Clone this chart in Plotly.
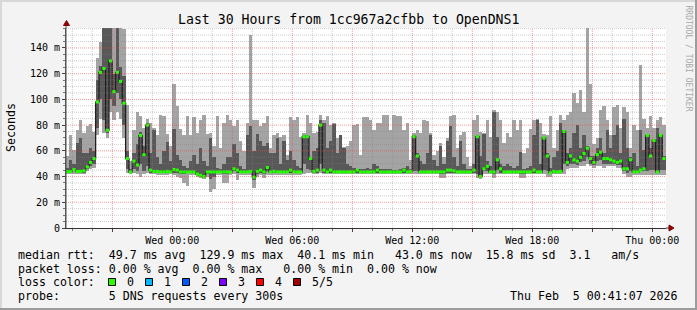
import numpy as np
import pandas as pd
import plotly.graph_objects as go

# ---------------- data: 10-minute steps from Tue 2026-02-03 18:40 (values in ms) -------------
step_start = "2026-02-03 18:40"
step_minutes = 10

p1_ms = [42, 42, 42, 42, 42, 42, 44, 46, 47, 72, 85, 74, 70, 90, 84, 90, 85, 70, 43, 42, 43, 42, 40, 42, 43, 42, 42, 41, 41, 41, 41, 42, 41, 40, 39, 35,
         33, 41, 41, 40, 39, 38, 40, 28, 30, 41, 41, 35, 35, 41, 42, 37, 41, 41, 41, 41, 31, 40, 41, 39, 41, 41, 41, 41, 41, 41, 41, 41, 41, 41, 41, 42,
         43, 43, 42, 42, 43, 42, 42, 42, 42, 42, 42, 42, 42, 42, 42, 42, 42, 42, 42, 42, 42, 42, 42, 42, 42, 42, 42, 42, 42, 42, 42, 42, 42, 42, 42, 42,
         42, 42, 42, 42, 39, 39, 42, 42, 42, 42, 42, 42, 42, 42, 42, 39, 38, 42, 42, 42, 39, 42, 42, 42, 42, 42, 42, 42, 39, 39, 42, 42, 42, 42, 42, 42,
         40, 40, 42, 42, 42, 42, 46, 47, 47, 47, 48, 48, 50, 48, 47, 48, 48, 47, 48, 48, 48, 47, 47, 42, 40, 40, 41, 41, 41, 41, 41, 41, 41, 41, 41, 41]

p2_ms = [43, 43, 44, 43, 43, 43, 46, 48, 50, 78, 100, 84, 74, 100, 95, 105, 100, 80, 46, 43, 46, 44, 50, 44, 48, 43, 43, 43, 43, 43, 43, 43, 43, 43, 42, 42,
         43, 43, 43, 42, 40, 39, 42, 38, 40, 43, 43, 42, 42, 43, 44, 43, 43, 43, 43, 43, 37, 42, 43, 42, 44, 43, 43, 43, 43, 43, 43, 43, 43, 43, 43, 50,
         46, 45, 43, 43, 50, 43, 43, 43, 43, 43, 43, 43, 43, 43, 43, 43, 43, 43, 43, 43, 43, 43, 43, 43, 43, 43, 43, 43, 43, 43, 43, 43, 44, 44, 43, 43,
         43, 43, 43, 43, 42, 42, 43, 43, 43, 43, 43, 43, 43, 43, 43, 42, 39, 44, 44, 43, 42, 45, 43, 43, 43, 43, 43, 43, 42, 42, 43, 43, 43, 43, 43, 45,
         44, 42, 43, 43, 43, 50, 48, 50, 50, 49, 51, 52, 55, 50, 49, 52, 53, 50, 50, 50, 50, 49, 49, 44, 43, 44, 43, 43, 44, 44, 44, 45, 45, 43, 45, 45]

median_ms = [43.8, 43.8, 45.5, 44, 44, 44.5, 47.5, 51, 54, 98, 121, 124, 76, 129.9, 106, 121, 114, 97, 54, 43.6, 52, 49, 72, 57, 80, 45, 44, 44, 43.6, 43.6, 44, 43.6, 45.5, 45, 43.6, 43.6,
             43.6, 43.6, 43.6, 42, 41, 40, 43.6, 43.6, 43.6, 43.6, 43.6, 43.6, 43.6, 43.6, 46, 45, 43.6, 43.6, 43.6, 44, 39.5, 44, 45, 43.6, 47, 43.6, 44, 43.6, 43.6, 43.6, 43.6, 45, 43.6, 43.6, 43.6, 71,
             71, 54, 44, 45, 80, 45, 43.6, 45, 43.6, 43.6, 43.6, 43.6, 43.6, 43.6, 43.6, 45, 43.6, 43.6, 43.6, 43.6, 43.6, 45, 43.6, 43.6, 43.6, 43.6, 43.6, 43.6, 43.6, 45, 43.6, 44, 71, 56, 43.6, 43.6,
             43.6, 43.6, 43.6, 43.6, 43.6, 43.6, 45, 45, 44.5, 43.6, 43.6, 43.6, 43.6, 43.6, 45, 71, 40, 46, 48, 43.6, 43.6, 53, 46, 43.6, 43.6, 43.6, 43.6, 43.6, 43.6, 43.6, 43.6, 43.6, 45, 43.6, 43.6, 70,
             56, 43, 44, 43.6, 44, 75, 51, 56, 53, 52, 55, 58, 62, 54, 51, 57, 59, 54, 54, 53, 52, 51, 52, 46, 46, 53, 43.6, 43.6, 45, 46, 72, 56, 68, 43.6, 72, 54]

p4_ms = [47, 53, 50, 66, 70, 58, 58, 62, 60, 115, 126, 160, 160, 160, 120, 160, 125, 118, 60, 46, 58, 65, 75, 64, 82, 58, 76, 55, 50, 60, 67, 52, 77, 57, 53, 48,
         47, 52, 57, 50, 62, 52, 48, 70, 55, 47, 46, 50, 55, 55, 65, 58, 48, 46, 72, 79, 60, 73, 68, 64, 66, 58, 58, 70, 50, 68, 53, 60, 53, 48, 47, 72,
         72, 55, 60, 62, 84, 82, 62, 68, 81, 58, 72, 62, 50, 48, 47, 46, 46, 46, 47, 46, 50, 48, 46, 46, 46, 46, 45, 45, 46, 47, 48, 46, 72, 58, 52, 50,
         58, 72, 53, 48, 64, 50, 68, 79, 55, 48, 68, 50, 46, 46, 50, 72, 56, 73, 52, 48, 90, 71, 50, 48, 50, 48, 47, 48, 59, 46, 47, 48, 72, 84, 50, 71,
         58, 47, 55, 60, 82, 76, 58, 62, 74, 80, 62, 72, 64, 56, 56, 62, 70, 58, 76, 62, 72, 80, 58, 85, 62, 55, 58, 48, 76, 61, 73, 62, 69, 78, 73, 56]

p5_ms = [56, 72, 61, 76, 84, 74, 79, 81, 75, 132, 145, 160, 160, 160, 160, 160, 160, 155, 96, 52, 76, 90, 87, 78, 85, 82, 78, 72, 88, 87, 73, 64, 112, 95, 77, 72,
         87, 72, 86, 74, 84, 88, 73, 74, 64, 87, 62, 82, 88, 84, 79, 84, 68, 60, 82, 150, 84, 84, 79, 82, 87, 62, 72, 74, 71, 72, 57, 86, 84, 86, 71, 74,
         88, 82, 74, 75, 88, 84, 87, 80, 82, 70, 72.5, 63, 64, 68, 80, 81, 57, 86, 86, 84, 76, 82, 82, 88, 88, 76, 88, 87, 87, 76, 82, 53, 74, 76, 74, 84,
         83, 74, 57, 60, 66, 55, 70, 87, 88, 62, 72, 75, 55, 48, 84, 88, 75, 74, 84, 71, 92, 90, 84, 66, 74, 71, 84, 76, 84, 58, 62, 77, 84, 85, 82, 73,
         72, 87, 62, 76, 88, 84, 88, 90, 105, 97, 107, 90, 160, 112, 65, 70, 92, 95, 84, 72, 94, 96, 78, 94, 90, 62, 80, 76, 127, 85, 78, 87, 78, 84, 86, 80]

y_tick_vals = [0, 20, 40, 60, 80, 100, 120, 140]
y_tick_text = ["0", "20 m", "40 m", "60 m", "80 m", "100 m", "120 m", "140 m"]
y_minor_step = 5
x_tick_vals = ["2026-02-03 21:00", "2026-02-04 00:00", "2026-02-04 03:00", "2026-02-04 06:00",
               "2026-02-04 09:00", "2026-02-04 12:00", "2026-02-04 15:00", "2026-02-04 18:00",
               "2026-02-04 21:00", "2026-02-05 00:00"]
x_tick_text = ["", "Wed 00:00", "", "Wed 06:00", "", "Wed 12:00", "", "Wed 18:00", "", "Thu 00:00"]
x_minor_start = "2026-02-03 19:00"
x_range = ["2026-02-03 18:41:07", "2026-02-05 00:41:07"]
y_range = [0, 155.5]

title_text = "Last 30 Hours from 1cc967a2cfbb to OpenDNS1"
legend_lines = [
    "median rtt:  49.7 ms avg  129.9 ms max  40.1 ms min   43.0 ms now  15.8 ms sd  3.1   am/s",
    "packet loss: 0.00 % avg  0.00 % max   0.00 % min  0.00 % now",
    "loss color:",
    "probe:       5 DNS requests every 300s",
]
loss_labels = ["0", "1", "2", "3", "4", "5/5"]
loss_colors = ["#26ff00", "#00b8ff", "#0059ff", "#7e00ff", "#ff0000", "#a00000"]
date_text = "Thu Feb  5 00:41:07 2026"
credit_text = "RRDTOOL / TOBI OETIKER"

# ---------------- layout geometry (pixels) ----------------
FW, FH = 697, 310
L, T, W, H = 66, 28, 600, 200
MONO = "DejaVu Sans Mono"


def pxx(x):
    return (x - L) / W


def pxy(y):
    return (T + H - y) / H


def nb(s):
    return s.replace(" ", "\u00a0")


p1 = np.array(p1_ms, float)
p2 = np.array(p2_ms, float)
med = np.array(median_ms, float)
p4 = np.array(p4_ms, float)
p5 = np.array(p5_ms, float)
n = len(med)
step = pd.Timedelta(minutes=step_minutes)
starts = pd.Timestamp(step_start) + step * np.arange(n)
edges = pd.Timestamp(step_start) + step * np.arange(n + 1)
centers = starts + step / 2
wms = step.total_seconds() * 1000

fig = go.Figure()
# outer smoke (min..max)
fig.add_trace(go.Bar(x=centers, y=p5 - p1, base=p1, width=wms,
                     marker=dict(color="#a4a4a4", line=dict(width=0)), hoverinfo="skip"))
# inner smoke (2nd..4th)
fig.add_trace(go.Bar(x=centers, y=p4 - p2, base=p2, width=wms,
                     marker=dict(color="#585858", line=dict(width=0)), hoverinfo="skip"))
# median line
fig.add_trace(go.Scatter(x=edges, y=np.append(med, med[-1]), mode="lines",
                         line=dict(color="#202020", width=1.3, shape="hv"), hoverinfo="skip"))
# loss-coloured median segments
gx, gy = [], []
for i in range(n):
    gx += [edges[i], edges[i + 1], None]
    gy += [med[i], med[i], None]
fig.add_trace(go.Scatter(x=gx, y=gy, mode="lines", line=dict(color="#26ff00", width=3),
                         hoverinfo="skip"))

RED = "rgba(240,70,70,0.55)"
GREY = "rgba(130,130,130,0.42)"
DASH = "1px,1px"
fig.update_xaxes(type="date", range=x_range, tickmode="array", tickvals=x_tick_vals,
                 ticktext=x_tick_text, showgrid=False, ticks="outside", ticklen=3,
                 tickcolor="#444", tickfont=dict(family=MONO, size=10, color="#000"),
                 showline=True, linecolor="#333", linewidth=1, zeroline=False,
                 minor=dict(tickmode="linear", tick0=x_minor_start, dtick=3600000,
                            showgrid=False, ticks="outside", ticklen=2, tickcolor="#777"))
fig.update_yaxes(range=y_range, tickmode="array", tickvals=y_tick_vals, ticktext=y_tick_text,
                 showgrid=False, ticks="outside", ticklen=3, tickcolor="#444",
                 tickfont=dict(family=MONO, size=10, color="#000"),
                 showline=True, linecolor="#555", linewidth=1, zeroline=False,
                 minor=dict(tickmode="linear", tick0=0, dtick=y_minor_step, showgrid=False,
                            ticks="outside", ticklen=2, tickcolor="#777"))

shapes = []
# grid drawn on top of the smoke, as rrdtool does
major_x = pd.to_datetime(x_tick_vals)
minor_x = pd.date_range(x_minor_start, x_range[1], freq="1h")
for t in minor_x:
    if t in set(major_x):
        continue
    shapes.append(dict(type="line", xref="x", yref="paper", x0=t, x1=t, y0=0, y1=1,
                       line=dict(color=GREY, width=1, dash=DASH), layer="above"))
minor_y = np.arange(y_range[0] + y_minor_step, y_range[1], y_minor_step)
for v in minor_y:
    if v in y_tick_vals:
        continue
    shapes.append(dict(type="line", xref="paper", yref="y", x0=0, x1=1, y0=v, y1=v,
                       line=dict(color=GREY, width=1, dash=DASH), layer="above"))
for t in major_x:
    shapes.append(dict(type="line", xref="x", yref="paper", x0=t, x1=t, y0=0, y1=1,
                       line=dict(color=RED, width=1, dash=DASH), layer="above"))
for v in y_tick_vals[1:]:
    shapes.append(dict(type="line", xref="paper", yref="y", x0=0, x1=1, y0=v, y1=v,
                       line=dict(color=RED, width=1, dash=DASH), layer="above"))

# axis extensions and arrows
shapes.append(dict(type="line", xref="paper", yref="paper", x0=pxx(66), x1=pxx(66),
                   y0=pxy(228), y1=pxy(24), line=dict(color="#555", width=1)))
shapes.append(dict(type="line", xref="paper", yref="paper", x0=pxx(666), x1=pxx(670),
                   y0=pxy(228), y1=pxy(228), line=dict(color="#333", width=1)))


def tri(pts):
    d = "M " + " L ".join(f"{pxx(a):.5f},{pxy(b):.5f}" for a, b in pts) + " Z"
    return dict(type="path", xref="paper", yref="paper", path=d,
                fillcolor="#8b0000", line=dict(color="#8b0000", width=1))


shapes.append(tri([(66.5, 20.5), (63.5, 25.5), (69.5, 25.5)]))
shapes.append(tri([(674, 228), (669, 225), (669, 231)]))
# 3-D frame
shapes.append(dict(type="rect", xref="paper", yref="paper", x0=pxx(0), x1=pxx(697),
                   y0=pxy(0), y1=pxy(2), fillcolor="#d8d8d8", line=dict(width=0), layer="below"))
shapes.append(dict(type="rect", xref="paper", yref="paper", x0=pxx(0), x1=pxx(2),
                   y0=pxy(0), y1=pxy(310), fillcolor="#d8d8d8", line=dict(width=0), layer="below"))
shapes.append(dict(type="rect", xref="paper", yref="paper", x0=pxx(695), x1=pxx(697),
                   y0=pxy(0), y1=pxy(310), fillcolor="#9c9c9c", line=dict(width=0), layer="below"))
shapes.append(dict(type="rect", xref="paper", yref="paper", x0=pxx(0), x1=pxx(697),
                   y0=pxy(308), y1=pxy(310), fillcolor="#9c9c9c", line=dict(width=0), layer="below"))
# loss colour swatches
for i, c in enumerate(loss_colors):
    x0 = 108.5 + 37 * i
    shapes.append(dict(type="rect", xref="paper", yref="paper", x0=pxx(x0), x1=pxx(x0 + 7),
                       y0=pxy(285.5), y1=pxy(278.5), fillcolor=c,
                       line=dict(color="#000", width=1)))

ann = []
ann.append(dict(text=nb(title_text), x=pxx(348), y=pxy(20), xref="paper", yref="paper",
                showarrow=False, xanchor="center", yanchor="middle",
                font=dict(family=MONO, size=13.2, color="#000")))
ann.append(dict(text="Seconds", x=pxx(11), y=pxy(128), xref="paper", yref="paper",
                showarrow=False, textangle=-90, xanchor="center", yanchor="middle",
                font=dict(family=MONO, size=11.6, color="#000")))
ann.append(dict(text=nb(credit_text), x=pxx(688.5), y=pxy(58), xref="paper", yref="paper",
                showarrow=False, textangle=90, xanchor="center", yanchor="middle",
                font=dict(family=MONO, size=8, color="#a8a8a8")))
line_y = [255, 268.5, 282, 296]
for txt, yy in zip(legend_lines, line_y):
    ann.append(dict(text=nb(txt), x=pxx(16), y=pxy(yy), xref="paper", yref="paper",
                    showarrow=False, xanchor="left", yanchor="middle",
                    font=dict(family=MONO, size=11.6, color="#000")))
for i, lab in enumerate(loss_labels):
    ann.append(dict(text=lab, x=pxx(125 + 37 * i), y=pxy(282), xref="paper", yref="paper",
                    showarrow=False, xanchor="left", yanchor="middle",
                    font=dict(family=MONO, size=11.6, color="#000")))
ann.append(dict(text=nb(date_text), x=pxx(680), y=pxy(296), xref="paper", yref="paper",
                showarrow=False, xanchor="right", yanchor="middle",
                font=dict(family=MONO, size=11.6, color="#000")))

fig.update_layout(width=FW, height=FH, autosize=False,
                  margin=dict(l=L, r=FW - L - W, t=T, b=FH - T - H, pad=0),
                  paper_bgcolor="#f3f3f3", plot_bgcolor="#ffffff",
                  barmode="overlay", bargap=0, showlegend=False,
                  shapes=shapes, annotations=ann)

fig.write_html("out.html")
